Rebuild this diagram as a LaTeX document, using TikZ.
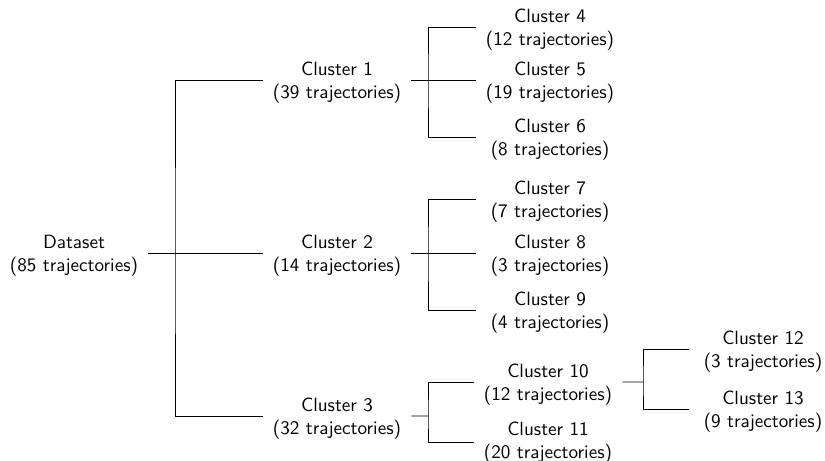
\documentclass[tikz,border=0pt]{standalone}
\usepackage{tikz}
\begin{document}
\begin{tikzpicture}[x=0.5225pt,y=-0.5225pt,
  cl/.style={align=center,font=\sffamily,inner xsep=5.2pt,inner ysep=0pt,minimum width=77.3pt},
  conn/.style={line width=0.5pt}]
\useasboundingbox (0,0) rectangle (825,460);
% nodes placed 3px below their connector lines
\node[cl] (ds) at (74,256) {Dataset\\(85 trajectories)};
\node[cl] (c1) at (337,83) {Cluster 1\\(39 trajectories)};
\node[cl] (c2) at (337,256) {Cluster 2\\(14 trajectories)};
\node[cl] (c3) at (337,419) {Cluster 3\\(32 trajectories)};
\node[cl] (c4) at (550,30) {Cluster 4\\(12 trajectories)};
\node[cl] (c5) at (550,83) {Cluster 5\\(19 trajectories)};
\node[cl] (c6) at (550,140) {Cluster 6\\(8 trajectories)};
\node[cl] (c7) at (550,202) {Cluster 7\\(7 trajectories)};
\node[cl] (c8) at (550,256) {Cluster 8\\(3 trajectories)};
\node[cl] (c9) at (550,313) {Cluster 9\\(4 trajectories)};
\node[cl] (c10) at (548,385) {Cluster 10\\(12 trajectories)};
\node[cl] (c11) at (548,443) {Cluster 11\\(20 trajectories)};
\node[cl] (c12) at (763,352) {Cluster 12\\(3 trajectories)};
\node[cl] (c13) at (763,412) {Cluster 13\\(9 trajectories)};
\coordinate (j1) at (175,253);
\coordinate (j2a) at (428,80);
\coordinate (j2b) at (428,253);
\coordinate (j2c) at (428,416);
\coordinate (j3) at (643,382);
\tikzset{up/.style={yshift=1.57pt}}
\draw[conn] ([up]ds.east) -- ([up]c2.west);
\draw[conn] ([up]c1.west) -| (j1) |- ([up]c3.west);
\draw[conn] ([up]c1.east) -- ([up]c5.west);
\draw[conn] ([up]c4.west) -| (j2a) |- ([up]c6.west);
\draw[conn] ([up]c2.east) -- ([up]c8.west);
\draw[conn] ([up]c7.west) -| (j2b) |- ([up]c9.west);
\draw[conn] ([up]c3.east) -- (j2c);
\draw[conn] ([up]c10.west) -| (j2c) |- ([yshift=0.5pt]c11.west);
\draw[conn] ([up]c10.east) -- (j3);
\draw[conn] ([up]c12.west) -| (j3) |- ([up]c13.west);
\end{tikzpicture}
\end{document}
